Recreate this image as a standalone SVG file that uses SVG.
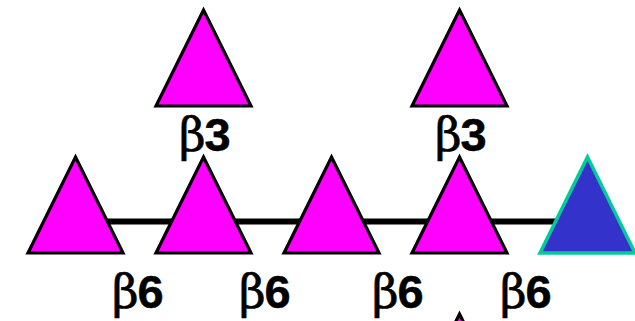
<svg xmlns="http://www.w3.org/2000/svg" width="635" height="321" viewBox="0 0 635 321">
<style>
.s{fill:#ff00ff;stroke:#000;stroke-width:3.2;stroke-linejoin:miter}
.b{fill:#3333cc;stroke:#00cc99;stroke-width:3.5}
.l{font-family:"Liberation Sans",Arial,sans-serif;font-size:47px;font-weight:700;fill:#000;stroke:#000;stroke-width:.5}
.g{font-family:"DejaVu Serif","Liberation Serif",serif;font-weight:400;font-size:46px;stroke-width:.7}
</style>
<rect width="635" height="321" fill="#fff"/>
<g id="connectors"><line x1="100" y1="221.500" x2="565" y2="221.500" stroke="#000" stroke-width="6"/></g>
<g id="n1"><polygon class="s" points="75.500,157 123,253 28,253"/></g>
<g id="n2"><polygon class="s" points="203.500,157 251,253 156,253"/></g>
<g id="n3"><polygon class="s" points="331.500,157 379,253 284,253"/></g>
<g id="n4"><polygon class="s" points="459.500,157 507,253 412,253"/></g>
<g id="n5"><polygon class="b" points="587.500,157 635,253 540,253"/></g>
<g id="n6"><polygon class="s" points="203.500,10 251,106 156,106"/></g>
<g id="n7"><polygon class="s" points="459.500,10 507,106 412,106"/></g>
<g id="n8"><polygon class="s" points="459.500,314 507,410 412,410"/></g>
<g id="labels">
<text class="l" x="112" y="308"><tspan class="g">β</tspan><tspan dx="-1">6</tspan></text>
<text class="l" x="239" y="308"><tspan class="g">β</tspan><tspan dx="-1">6</tspan></text>
<text class="l" x="372" y="308"><tspan class="g">β</tspan><tspan dx="-1">6</tspan></text>
<text class="l" x="500" y="308"><tspan class="g">β</tspan><tspan dx="-1">6</tspan></text>
<text class="l" x="179" y="151"><tspan class="g">β</tspan><tspan dx="-1">3</tspan></text>
<text class="l" x="435" y="151"><tspan class="g">β</tspan><tspan dx="-1">3</tspan></text>
</g>
</svg>
